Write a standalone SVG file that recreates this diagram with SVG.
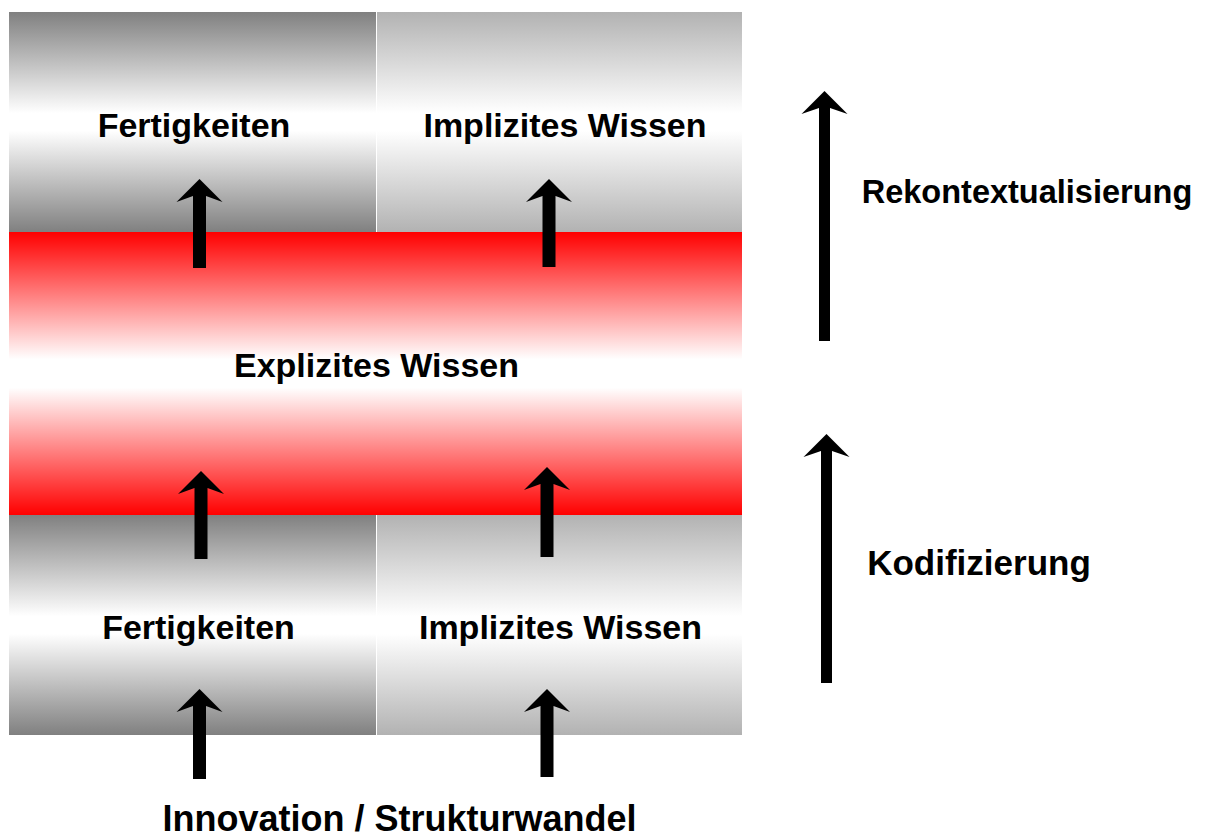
<svg xmlns="http://www.w3.org/2000/svg" width="1231" height="840" viewBox="0 0 1231 840">
  <defs>
    <linearGradient id="gDark" x1="0" y1="0" x2="0" y2="1">
      <stop offset="0" stop-color="#808080"/>
      <stop offset="0.46" stop-color="#ffffff"/>
      <stop offset="0.54" stop-color="#ffffff"/>
      <stop offset="1" stop-color="#808080"/>
    </linearGradient>
    <linearGradient id="gLight" x1="0" y1="0" x2="0" y2="1">
      <stop offset="0" stop-color="#b2b2b2"/>
      <stop offset="0.46" stop-color="#ffffff"/>
      <stop offset="0.54" stop-color="#ffffff"/>
      <stop offset="1" stop-color="#b2b2b2"/>
    </linearGradient>
    <linearGradient id="gRed" x1="0" y1="0" x2="0" y2="1">
      <stop offset="0" stop-color="#ff0000"/>
      <stop offset="0.45" stop-color="#ffffff"/>
      <stop offset="0.55" stop-color="#ffffff"/>
      <stop offset="1" stop-color="#ff0000"/>
    </linearGradient>
  </defs>
  <style>
    text { font-family: "Liberation Sans", Arial, sans-serif; font-weight: bold; font-size: 34px; fill: #000; text-anchor: middle; }
    .arrow { fill: #000; stroke: none; }
  </style>
  <rect width="1231" height="840" fill="#ffffff"/>

  <g id="top-fertigkeiten">
    <rect x="9" y="12" width="367" height="220" fill="url(#gDark)"/>
    <text x="194" y="137">Fertigkeiten</text>
  </g>
  <g id="top-implizites">
    <rect x="377" y="12" width="365" height="220" fill="url(#gLight)"/>
    <text x="565" y="137">Implizites Wissen</text>
  </g>
  <g id="explizites">
    <rect x="9" y="232" width="733" height="283" fill="url(#gRed)"/>
    <text x="376.5" y="377">Explizites Wissen</text>
  </g>
  <g id="bottom-fertigkeiten">
    <rect x="9" y="515" width="367" height="220" fill="url(#gDark)"/>
    <text x="198.5" y="639">Fertigkeiten</text>
  </g>
  <g id="bottom-implizites">
    <rect x="377" y="515" width="365" height="220" fill="url(#gLight)"/>
    <text x="560.5" y="639">Implizites Wissen</text>
  </g>

  <g id="connectors">
    <polygon class="arrow" points="199.5,179 222.5,202 206,196 206,268 193,268 193,196 176.5,202"/>
    <polygon class="arrow" points="549,179 572,202 555.5,196 555.5,267 542.5,267 542.5,196 526,202"/>
    <polygon class="arrow" points="201,471 224,494 207.5,488 207.5,559 194.5,559 194.5,488 178,494"/>
    <polygon class="arrow" points="547,467 570,490 553.5,484 553.5,557 540.5,557 540.5,484 524,490"/>
    <polygon class="arrow" points="199.5,689 222.5,712 206,706 206,779 193,779 193,706 176.5,712"/>
    <polygon class="arrow" points="547,689 570,712 553.5,706 553.5,777 540.5,777 540.5,706 524,712"/>
    <polygon class="arrow" points="824.5,91 847.5,114 830,108 830,341 819,341 819,108 801.5,114"/>
    <polygon class="arrow" points="826.5,434 849.5,457 832,451 832,683 821,683 821,451 803.5,457"/>
  </g>

  <g id="labels">
    <text x="1027" y="203" style="font-size:32.5px">Rekontextualisierung</text>
    <text x="979" y="575" style="font-size:35px">Kodifizierung</text>
    <text x="399.5" y="831" style="font-size:36px">Innovation / Strukturwandel</text>
  </g>
</svg>
